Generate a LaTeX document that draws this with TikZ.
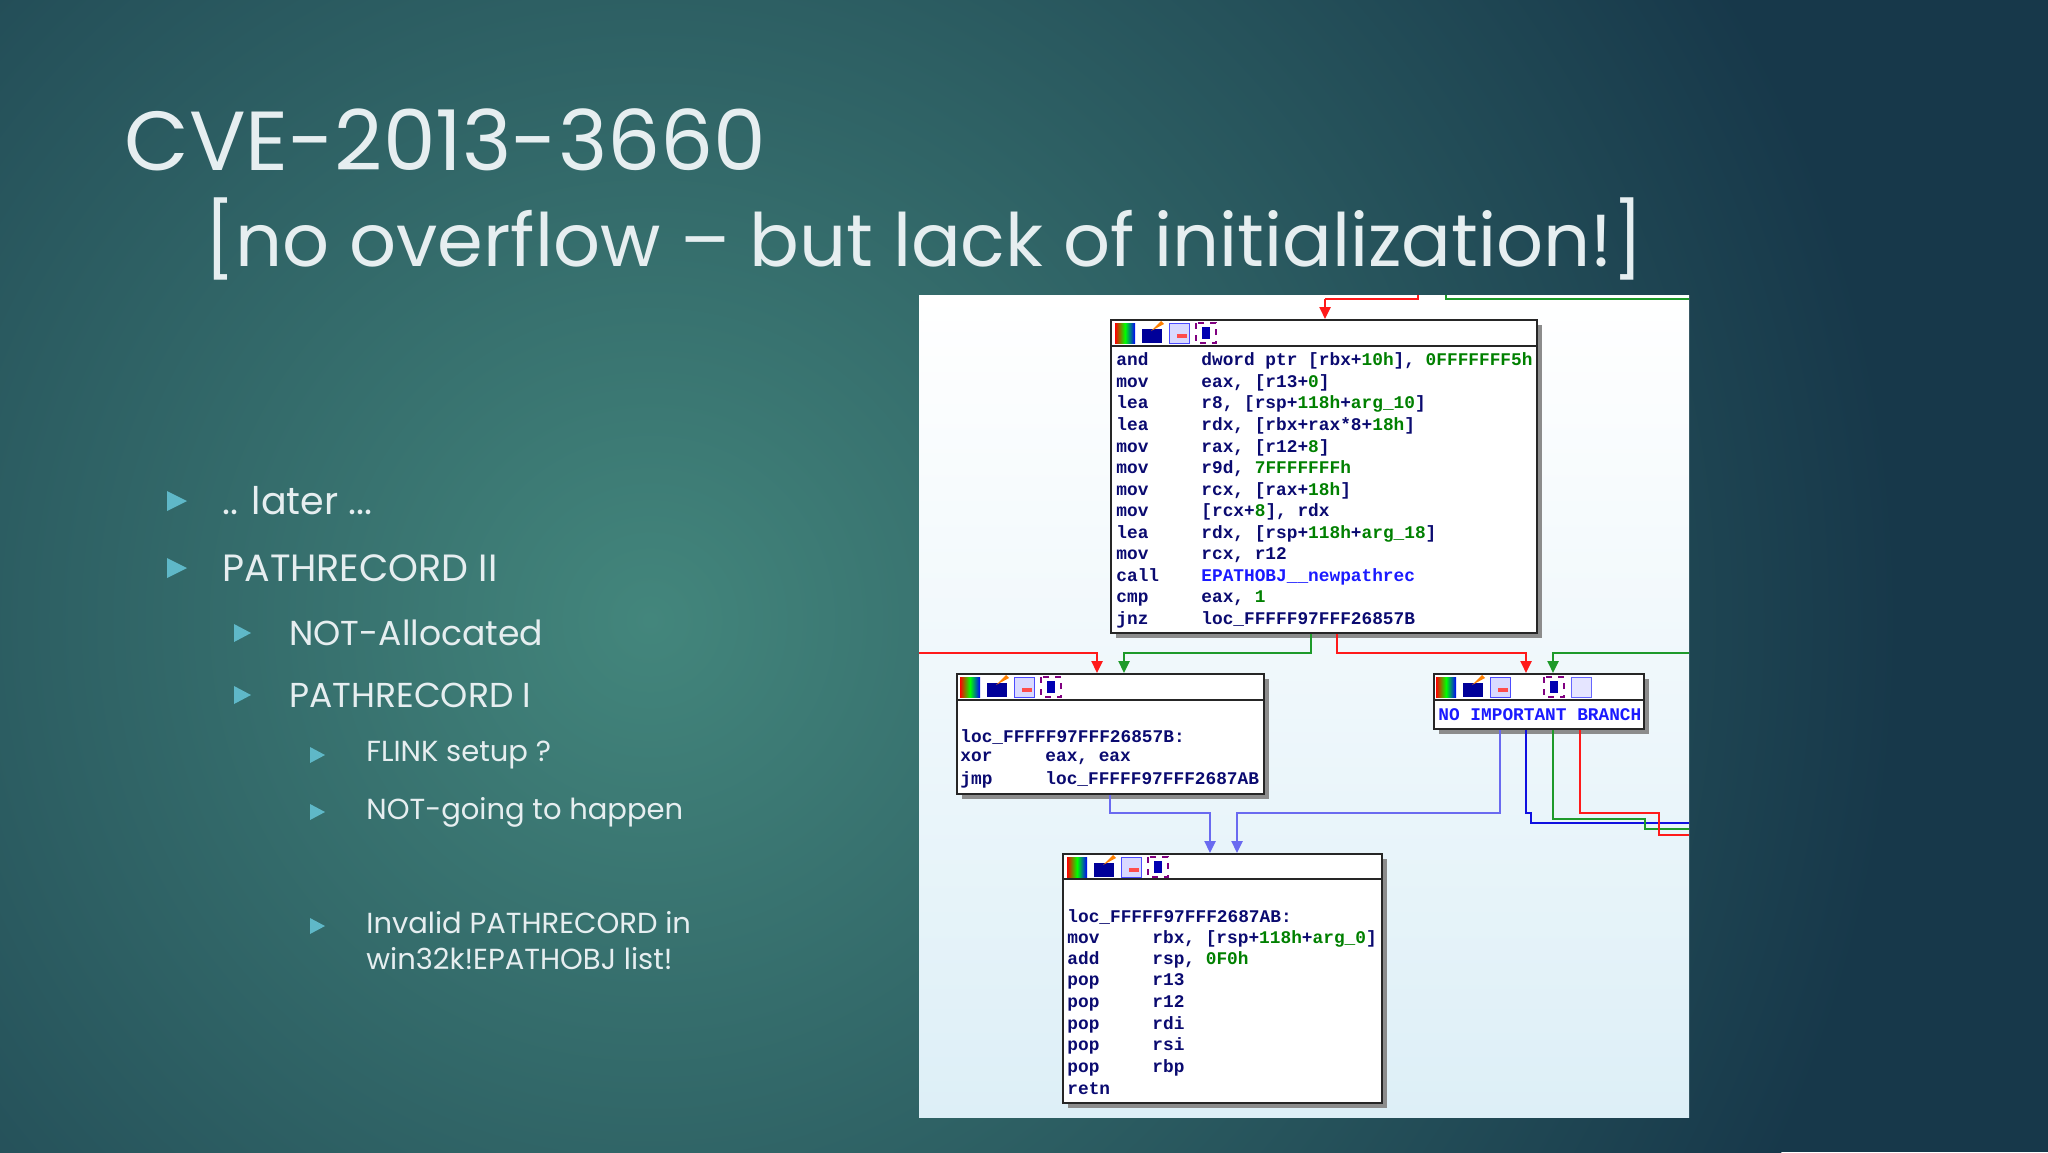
\documentclass[tikz,border=0pt]{standalone}
\usepackage{fontspec}
\setmainfont{Poppins}
\newfontfamily\asm{Liberation Mono}
\usetikzlibrary{arrows.meta,fit}
\definecolor{bgin}{HTML}{43867C}
\definecolor{bgout}{HTML}{17384A}
\definecolor{slidetext}{HTML}{E6EEF0}
\definecolor{bul}{HTML}{5FB8C8}
\definecolor{paneltop}{HTML}{FFFFFF}
\definecolor{panelbot}{HTML}{DDEFF7}
\definecolor{ida}{HTML}{0A0A70}
\definecolor{idagreen}{HTML}{008000}
\definecolor{idablue}{HTML}{1A1AFF}
\definecolor{er}{HTML}{FF1A1A}
\definecolor{eg}{HTML}{1E9A2A}
\definecolor{eb}{HTML}{1010E0}
\definecolor{elb}{HTML}{6A6AF0}
\newcommand\gn[1]{\textcolor{idagreen}{#1}}
\newcommand\mn[1]{\makebox[42.5pt][l]{#1}}
\tikzset{
  blk/.style={draw=black!85,line width=1pt,fill=white,inner sep=0pt},
  asmt/.style={font=\asm\bfseries\fontsize{8.9pt}{10pt}\selectfont,text=ida,anchor=west,inner sep=0pt},
  edge/.style={line width=1.2pt,-{Triangle[length=6pt,width=5.5pt]}},
  plain/.style={line width=1.2pt},
  tri/.style={fill=bul},
  l1/.style={font=\fontsize{19pt}{22pt}\selectfont,text=slidetext,anchor=west,inner sep=0pt},
  l2/.style={font=\fontsize{17.3pt}{21pt}\selectfont,text=slidetext,anchor=west,inner sep=0pt},
  l3/.style={font=\fontsize{14.5pt}{18pt}\selectfont,text=slidetext,anchor=west,inner sep=0pt,align=left},
}
\newcommand\icons[2]{%
  \shade[left color=red,right color=blue,middle color=green] (#1,#2) rectangle ++(20,20);
  \fill[blue!60!black] (#1+27,#2+6) rectangle ++(20,14); \fill[orange] (#1+36,#2+8) -- ++(10,-10) -- ++(3,3) -- cycle;
  \draw[blue!70,fill=blue!15] (#1+54,#2) rectangle ++(20,20); \fill[red!70] (#1+62,#2+11) rectangle ++(10,4);
  \draw[violet,dashed,line width=0.6pt] (#1+81,#2) rectangle ++(20,20); \fill[blue!70!black] (#1+87,#2+4) rectangle ++(8,12);
}
\newcommand\shadowbox[4]{\fill[black!45] (#1+5,#2+5) rectangle (#3+5,#4+5);}
\begin{document}
\begin{tikzpicture}[x=0.5pt,y=-0.5pt]
\useasboundingbox (0,0) rectangle (2048,1152);
\fill[bgout] (0,0) rectangle (2048,1152);
\shade[inner color=bgin,outer color=bgout] (650,620) circle (1250);
% title
\node[font=\fontsize{41.9pt}{48pt}\selectfont,text=slidetext,anchor=base west,inner sep=0pt] (title) at (124,170) {CVE-2013-3660};
\node[font=\fontsize{36.8pt}{44pt}\selectfont,text=slidetext,anchor=base west,inner sep=0pt] (sub) at (204,266) {[no overflow – but lack of initialization!]};
% bullets
\fill[tri] (167,491) -- (187,501) -- (167,511) -- cycle;
\node[l1] (b1) at (222,501) {.. later ...};
\fill[tri] (167,558) -- (187,568) -- (167,578) -- cycle;
\node[l1] (b2) at (222,568) {PATHRECORD II};
\fill[tri] (234,624) -- (251,633) -- (234,642) -- cycle;
\node[l2] (b3) at (289,633) {NOT-Allocated};
\fill[tri] (234,686) -- (251,695) -- (234,704) -- cycle;
\node[l2] (b4) at (289,695) {PATHRECORD I};
\fill[tri] (310,747) -- (325,755) -- (310,763) -- cycle;
\node[l3] (b5) at (366,755) {FLINK setup ?};
\fill[tri] (310,804) -- (325,812) -- (310,820) -- cycle;
\node[l3] (b6) at (366,812) {NOT-going to happen};
\fill[tri] (310,918) -- (325,926) -- (310,934) -- cycle;
\node[l3,anchor=north west] (b7) at (366,911) {Invalid PATHRECORD in\\[0pt]win32k!EPATHOBJ list!};
% panel
\shade[top color=paneltop,bottom color=panelbot] (919,295) rectangle (1689,1117);
\begin{scope}
\clip (919,295) rectangle (1689,1117);
\coordinate (tinR) at (1418,295); \coordinate (tinG) at (1446,295);
\draw[plain,er] (tinR) -- (1418,299) -- (1325,299) coordinate (tbR);
\draw[plain,eg] (tinG) -- (1446,299) -- (1689,299) coordinate (rightG);
% boxes
\shadowbox{1111}{320}{1537}{633}
\shadowbox{957}{674}{1264}{794}
\shadowbox{1434}{674}{1644}{729}
\shadowbox{1063}{854}{1382}{1103}
\coordinate (aNW) at (1111,320); \coordinate (aSE) at (1537,633);
\node[blk,fit=(aNW)(aSE)] (A) {};
\coordinate (bNW) at (957,674); \coordinate (bSE) at (1264,794);
\node[blk,fit=(bNW)(bSE)] (B) {};
\coordinate (cNW) at (1434,674); \coordinate (cSE) at (1644,729);
\node[blk,fit=(cNW)(cSE)] (C) {};
\coordinate (dNW) at (1063,854); \coordinate (dSE) at (1382,1103);
\node[blk,fit=(dNW)(dSE)] (D) {};
\draw[line width=1pt,black!85] (1111,346) -- (1537,346);
\draw[line width=1pt,black!85] (957,700) -- (1264,700);
\draw[line width=1pt,black!85] (1434,700) -- (1644,700);
\draw[line width=1pt,black!85] (1063,879) -- (1382,879);
\icons{1115}{323}
\icons{960}{677}
\icons{1067}{857}
\shade[left color=red,right color=blue,middle color=green] (1436,677) rectangle ++(20,20);
\fill[blue!60!black] (1463,683) rectangle ++(20,14); \fill[orange] (1472,685) -- ++(10,-10) -- ++(3,3) -- cycle;
\draw[blue!70,fill=blue!15] (1490,677) rectangle ++(20,20); \fill[red!70] (1498,688) rectangle ++(10,4);
\draw[violet,dashed,line width=0.6pt] (1544,677) rectangle ++(20,20); \fill[blue!70!black] (1550,681) rectangle ++(8,12);
\draw[blue!60,fill=blue!10] (1571,677) rectangle ++(20,20);
% top box text
\node[asmt] (a1) at (1116,361) {\mn{and}dword ptr [rbx+\gn{10h}], \gn{0FFFFFFF5h}};
\node[asmt] (a2) at (1116,382.6) {\mn{mov}eax, [r13+\gn{0}]};
\node[asmt] (a3) at (1116,404.2) {\mn{lea}r8, [rsp+\gn{118h}+\gn{arg\_10}]};
\node[asmt] (a4) at (1116,425.8) {\mn{lea}rdx, [rbx+rax*8+\gn{18h}]};
\node[asmt] (a5) at (1116,447.4) {\mn{mov}rax, [r12+\gn{8}]};
\node[asmt] (a6) at (1116,469) {\mn{mov}r9d, \gn{7FFFFFFFh}};
\node[asmt] (a7) at (1116,490.6) {\mn{mov}rcx, [rax+\gn{18h}]};
\node[asmt] (a8) at (1116,512.2) {\mn{mov}[rcx+\gn{8}], rdx};
\node[asmt] (a9) at (1116,533.8) {\mn{lea}rdx, [rsp+\gn{118h}+\gn{arg\_18}]};
\node[asmt] (a10) at (1116,555.4) {\mn{mov}rcx, r12};
\node[asmt] (a11) at (1116,577) {\mn{call}\textcolor{idablue}{EPATHOBJ\_\_newpathrec}};
\node[asmt] (a12) at (1116,598.6) {\mn{cmp}eax, \gn{1}};
\node[asmt] (a13) at (1116,620.2) {\mn{jnz}loc\_FFFFF97FFF26857B};
% box B
\node[asmt] (b1t) at (960,737) {loc\_FFFFF97FFF26857B:};
\node[asmt] (b2t) at (960,758) {\mn{xor}eax, eax};
\node[asmt] (b3t) at (960,779.5) {\mn{jmp}loc\_FFFFF97FFF2687AB};
% box C
\node[asmt,text=idablue] (c1t) at (1438,715) {NO IMPORTANT BRANCH};
% box D
\node[asmt] (d0) at (1067,917) {loc\_FFFFF97FFF2687AB:};
\node[asmt] (d1) at (1067,938.5) {\mn{mov}rbx, [rsp+\gn{118h}+\gn{arg\_0}]};
\node[asmt] (d2) at (1067,960) {\mn{add}rsp, \gn{0F0h}};
\node[asmt] (d3) at (1067,981.5) {\mn{pop}r13};
\node[asmt] (d4) at (1067,1003) {\mn{pop}r12};
\node[asmt] (d5) at (1067,1024.5) {\mn{pop}rdi};
\node[asmt] (d6) at (1067,1046) {\mn{pop}rsi};
\node[asmt] (d7) at (1067,1067.5) {\mn{pop}rbp};
\node[asmt] (d8) at (1067,1089) {retn};
% edges
\draw[edge,er] (tbR) -- (A.north -| tbR);
\draw[edge,eg] (A.south -| 1311,0) -- (1311,653) -- (1124,653) -- (B.north -| 1124,0);
\draw[edge,er] (A.south -| 1337,0) -- (1337,653) -- (1526,653) -- (C.north -| 1526,0);
\coordinate (leftR) at (919,653);
\draw[edge,er] (leftR) -- (1097,653) -- (B.north -| 1097,0);
\coordinate (rightG2) at (1689,653);
\draw[edge,eg] (rightG2) -- (1553,653) -- (C.north -| 1553,0);
\draw[edge,elb] (B.south -| 1110,0) -- (1110,813) -- (1210,813) -- (D.north -| 1210,0);
\draw[edge,elb] (C.south -| 1500,0) -- (1500,813) -- (1237,813) -- (D.north -| 1237,0);
\coordinate (outB) at (1689,823); \coordinate (outG) at (1689,829); \coordinate (outR) at (1689,835);
\draw[plain,eb] (C.south -| 1526,0) -- (1526,813) -- (1531,813) -- (1531,823) -- (outB);
\draw[plain,eg] (C.south -| 1553,0) -- (1553,819) -- (1645,819) -- (1645,829) -- (outG);
\draw[plain,er] (C.south -| 1580,0) -- (1580,813) -- (1659,813) -- (1659,835) -- (outR);
\end{scope}
\end{tikzpicture}
\end{document}
